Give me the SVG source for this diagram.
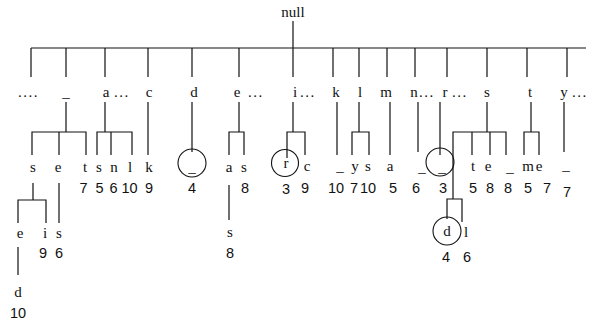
<svg xmlns="http://www.w3.org/2000/svg" width="598" height="322" viewBox="0 0 598 322">
  <style>
    .ch { font-family: "Liberation Serif", "Times New Roman", serif; font-size: 15px; fill: #111; text-anchor: middle; }
    .dots { font-family: "Liberation Serif", "Times New Roman", serif; font-size: 15px; fill: #111; letter-spacing: 1.5px; }
    .num { font-family: "Liberation Sans", Arial, sans-serif; font-size: 14.5px; fill: #111; text-anchor: middle; }
    .ln { stroke: #111; stroke-width: 1.2; fill: none; }
    .ring { stroke: #111; stroke-width: 1.1; fill: none; }
  </style>
  <rect width="598" height="322" fill="#fff"/>

  <!-- connectors -->
  <g id="connectors" class="ln">
    <!-- root bar and first-level drops -->
    <path d="M293 21V77 M31 48H586 M31 48V77 M66 48V77 M105 48V77 M148 48V77 M192 48V77 M239 48V77 M333 48V77 M359 48V77 M387 48V77 M415 48V77 M447 48V77 M487 48V77 M527 48V77 M567 48V77"/>
    <!-- "_" branch -->
    <path d="M66 102V132 M32 155V132H86V155 M59 132V155"/>
    <!-- "a" branch -->
    <path d="M105 102V132 M97 155V132H132V155 M111 132V155"/>
    <!-- c, d -->
    <path d="M148 102V155 M192 102V152"/>
    <!-- "e" branch -->
    <path d="M239 102V132 M229 155V132H244V155"/>
    <!-- "i" branch -->
    <path d="M293 102V132 M287 158V132H305V155"/>
    <!-- k, l, m, n, r -->
    <path d="M337 102V155 M359 102V132 M352 155V132H369V155 M390 102V155 M418 102V152 M440 102V155"/>
    <!-- "s" branch -->
    <path d="M487 102V132 M453 199V132H506V155 M472 132V155 M490 132V155"/>
    <path d="M447 219V199H462V222"/>
    <!-- t, y -->
    <path d="M531 102V132 M524 155V132H539V155 M564 102V152"/>
    <!-- third level -->
    <path d="M33 183V200 M18 223V200H46V223 M59 183V223 M18 247V275 M229 185V220"/>
  </g>

  <!-- root -->
  <g id="n-null"><text class="ch" x="293" y="17">null</text></g>

  <!-- first level -->
  <g id="n-dots0"><text class="dots" x="18" y="97">....</text></g>
  <g id="n-under"><text class="ch" x="66" y="97">_</text></g>
  <g id="n-a"><text class="ch" x="106" y="97">a</text><text class="dots" x="114" y="97">...</text></g>
  <g id="n-c"><text class="ch" x="149" y="97">c</text></g>
  <g id="n-d"><text class="ch" x="194" y="97">d</text></g>
  <g id="n-e"><text class="ch" x="237" y="97">e</text><text class="dots" x="248" y="97">...</text></g>
  <g id="n-i"><text class="ch" x="295" y="97">i</text><text class="dots" x="300" y="97">...</text></g>
  <g id="n-k"><text class="ch" x="336" y="97">k</text></g>
  <g id="n-l"><text class="ch" x="360" y="97">l</text></g>
  <g id="n-m"><text class="ch" x="386" y="97">m</text></g>
  <g id="n-n"><text class="ch" x="414" y="97">n</text><text class="dots" x="419" y="97">...</text></g>
  <g id="n-r"><text class="ch" x="445" y="97">r</text><text class="dots" x="452" y="97">...</text></g>
  <g id="n-s"><text class="ch" x="487" y="97">s</text></g>
  <g id="n-t"><text class="ch" x="530" y="97">t</text></g>
  <g id="n-y"><text class="ch" x="564" y="97">y</text><text class="dots" x="572" y="97">...</text></g>

  <!-- second level -->
  <g id="n-_s"><text class="ch" x="33" y="172">s</text></g>
  <g id="n-_e"><text class="ch" x="58" y="172">e</text></g>
  <g id="n-_t"><text class="ch" x="85" y="172">t</text><text class="num" x="83.5" y="193">7</text></g>
  <g id="n-as"><text class="ch" x="99" y="172">s</text><text class="num" x="99.5" y="193">5</text></g>
  <g id="n-an"><text class="ch" x="114" y="172">n</text><text class="num" x="113.5" y="193">6</text></g>
  <g id="n-al"><text class="ch" x="130" y="172">l</text><text class="num" x="129.5" y="193">10</text></g>
  <g id="n-ck"><text class="ch" x="149" y="172">k</text><text class="num" x="149" y="193">9</text></g>
  <g id="n-d_"><circle class="ring" cx="192" cy="163" r="14"/><text class="ch" x="192" y="172">_</text><text class="num" x="192" y="193">4</text></g>
  <g id="n-ea"><text class="ch" x="229" y="172">a</text></g>
  <g id="n-es"><text class="ch" x="244" y="172">s</text><text class="num" x="245" y="193">8</text></g>
  <g id="n-ir"><circle class="ring" cx="285" cy="163" r="13.5"/><text class="ch" x="286" y="168">r</text><text class="num" x="286" y="194">3</text></g>
  <g id="n-ic"><text class="ch" x="307" y="171">c</text><text class="num" x="305" y="193">9</text></g>
  <g id="n-k_"><text class="ch" x="340" y="171">_</text><text class="num" x="336" y="193">10</text></g>
  <g id="n-ly"><text class="ch" x="355" y="171">y</text><text class="num" x="354" y="193">7</text></g>
  <g id="n-ls"><text class="ch" x="368" y="171">s</text><text class="num" x="368" y="193">10</text></g>
  <g id="n-ma"><text class="ch" x="390" y="171">a</text><text class="num" x="393" y="193">5</text></g>
  <g id="n-n_"><text class="ch" x="422" y="172">_</text><text class="num" x="416" y="193">6</text></g>
  <g id="n-r_"><circle class="ring" cx="440" cy="162" r="14"/><text class="ch" x="442" y="172">_</text><text class="num" x="443" y="193">3</text></g>
  <g id="n-st"><text class="ch" x="473" y="171">t</text><text class="num" x="473" y="193">5</text></g>
  <g id="n-se"><text class="ch" x="488" y="171">e</text><text class="num" x="490" y="193">8</text></g>
  <g id="n-s_"><text class="ch" x="510" y="172">_</text><text class="num" x="508" y="193">8</text></g>
  <g id="n-tm"><text class="ch" x="528" y="171">m</text><text class="num" x="528" y="193">5</text></g>
  <g id="n-te"><text class="ch" x="539" y="171">e</text><text class="num" x="547" y="193">7</text></g>
  <g id="n-y_"><text class="ch" x="566" y="170">_</text><text class="num" x="567" y="197">7</text></g>

  <!-- third level -->
  <g id="n-_se"><text class="ch" x="20" y="238">e</text></g>
  <g id="n-_si"><text class="ch" x="45" y="238">i</text><text class="num" x="43" y="258">9</text></g>
  <g id="n-_es"><text class="ch" x="59" y="238">s</text><text class="num" x="59" y="258">6</text></g>
  <g id="n-eas"><text class="ch" x="230" y="237">s</text><text class="num" x="230" y="258">8</text></g>
  <g id="n-s_d"><circle class="ring" cx="447" cy="231" r="14"/><text class="ch" x="447" y="236">d</text><text class="num" x="446" y="262">4</text></g>
  <g id="n-s_l"><text class="ch" x="466" y="237">l</text><text class="num" x="467" y="262">6</text></g>

  <!-- fourth level -->
  <g id="n-_sed"><text class="ch" x="18" y="297">d</text><text class="num" x="18" y="318">10</text></g>
</svg>
